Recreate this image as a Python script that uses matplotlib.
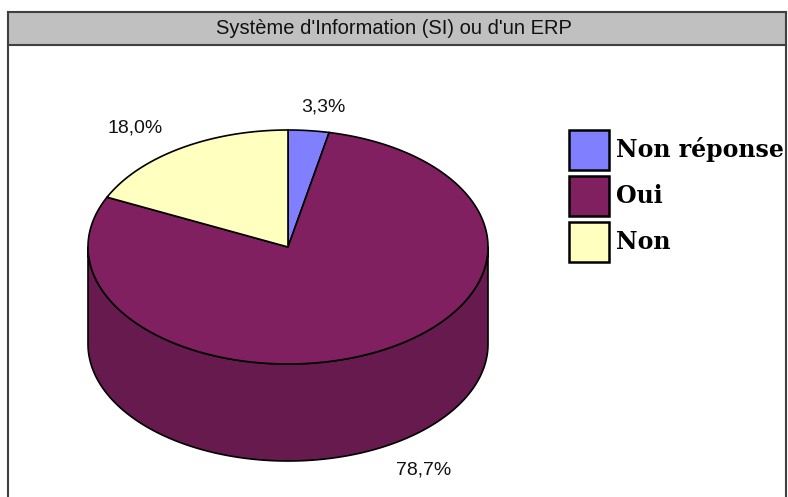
import numpy as np
import matplotlib.pyplot as plt
from matplotlib.patches import Polygon, Rectangle

# chart data
CATEGORIES = ['Non réponse', 'Oui', 'Non']
SHARES = [3.3, 78.7, 18.0]
PCT_LABELS = ['3,3%', '78,7%', '18,0%']
TITLE = "Système d'Information (SI) ou d'un ERP"

TOP_COLORS = ['#8080FF', '#802060', '#FFFFC0']
SIDE_COLORS = ['#6666CC', '#661A4D', '#CCCC99']

# layout in pixels (y grows downward)
W, H = 788, 497
CX, CY = 288, 247
RX, RY = 200, 117
DEPTH = 97
EDGE_LW = 1.2


def ellipse_xy(angles, dy=0.0):
    """Clockwise angles (deg) from 12 o'clock -> points on the pie's top ellipse."""
    t = np.radians(angles)
    return np.column_stack([CX + RX * np.sin(t), CY - RY * np.cos(t) + dy])


def draw_frame(ax):
    ax.add_patch(Rectangle((8, 12), 778, 33, facecolor='#C0C0C0', edgecolor='none', zorder=1))
    kw = dict(color='#404040', linewidth=1.5, zorder=2, solid_capstyle='projecting')
    ax.plot([8, 786], [12, 12], **kw)
    ax.plot([8, 786], [45, 45], **kw)
    ax.plot([8, 8], [12, H + 2], **kw)
    ax.plot([786, 786], [12, H + 2], **kw)
    ax.text(W / 2, 28.5, TITLE, ha='center', va='center', fontsize=14.5,
            family='Liberation Sans', color='#111111', zorder=3)


def draw_pie(ax):
    bounds = np.concatenate([[0], np.cumsum(SHARES)]) / sum(SHARES) * 360.0

    # side walls, only the front half (90..270 deg) is visible
    for i in range(len(SHARES)):
        lo, hi = max(bounds[i], 90.0), min(bounds[i + 1], 270.0)
        if lo >= hi:
            continue
        ang = np.linspace(lo, hi, 200)
        top = ellipse_xy(ang)
        bot = ellipse_xy(ang[::-1], DEPTH)
        ax.add_patch(Polygon(np.vstack([top, bot]), closed=True, facecolor=SIDE_COLORS[i],
                             edgecolor='black', linewidth=EDGE_LW, zorder=4))

    # top face wedges
    for i in range(len(SHARES)):
        ang = np.linspace(bounds[i], bounds[i + 1], 300)
        pts = np.vstack([[CX, CY], ellipse_xy(ang)])
        ax.add_patch(Polygon(pts, closed=True, facecolor=TOP_COLORS[i],
                             edgecolor='black', linewidth=EDGE_LW, zorder=5))

    # percentage labels outside the pie
    for i, lab in enumerate(PCT_LABELS):
        mid = np.radians((bounds[i] + bounds[i + 1]) / 2)
        x = CX + RX * 1.47 * np.sin(mid) + 5
        y = CY - RY * 1.2 * np.cos(mid)
        if np.cos(mid) < 0:
            y += DEPTH
        ax.text(x, y, lab, ha='center', va='center', fontsize=14,
                family='Liberation Sans', color='#111111', zorder=6)


def draw_legend(ax):
    for i, name in enumerate(CATEGORIES):
        y0 = 130 + i * 46
        ax.add_patch(Rectangle((569, y0), 40, 40, facecolor=TOP_COLORS[i],
                               edgecolor='black', linewidth=1.8, zorder=5))
        ax.text(616, y0 + 20, name, ha='left', va='center', fontsize=17,
                family='DejaVu Serif', fontweight='bold', color='black', zorder=6)


def main():
    fig = plt.figure(figsize=(W / 100, H / 100), dpi=100)
    ax = fig.add_axes([0, 0, 1, 1])
    ax.set_xlim(0, W)
    ax.set_ylim(H, 0)
    ax.axis('off')

    draw_frame(ax)
    draw_pie(ax)
    draw_legend(ax)

    fig.savefig('out.png', dpi=100, facecolor='white')
    plt.close(fig)


if __name__ == '__main__':
    main()
